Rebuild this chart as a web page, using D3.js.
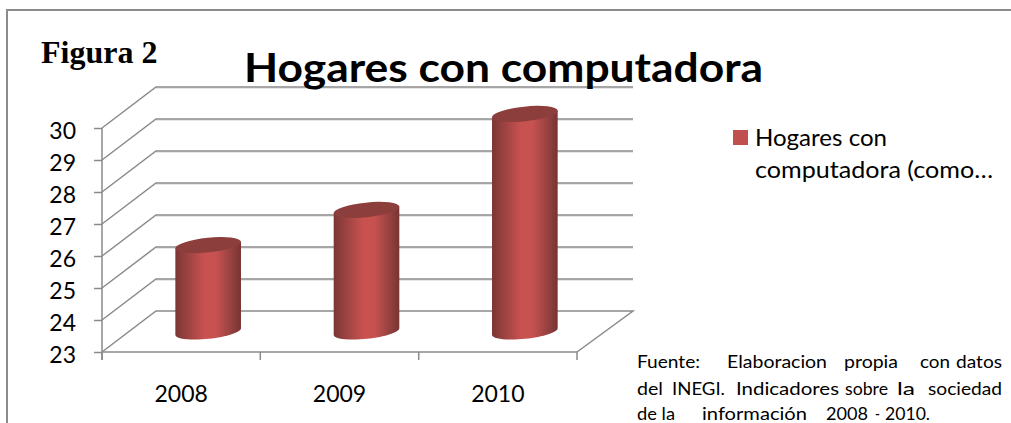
<!DOCTYPE html>
<html>
<head>
<meta charset="utf-8">
<style>html,body{margin:0;padding:0;background:#fff;overflow:hidden}svg{display:block}</style>
<script src="https://cdn.jsdelivr.net/npm/d3@7/dist/d3.min.js"></script>
</head>
<body>
<script>
const years = ["2008", "2009", "2010"];
const values = [25.7, 26.8, 29.8];
const yTicks = [23, 24, 25, 26, 27, 28, 29, 30];
const title = "Hogares con computadora";
const figureLabel = "Figura 2";
const legendLines = [["Hogares con", 132], ["computadora (como…", 238]];
const sourceWords = [
  {y: 368, words: [["Fuente:", 637, 63], ["Elaboracion", 727, 100], ["propia", 844, 54], ["con", 920, 30], ["datos", 956, 46]]},
  {y: 395, words: [["del", 637, 26], ["INEGI.", 672, 53], ["Indicadores", 736, 103], ["sobre", 845, 43], ["la", 897, 18], ["sociedad", 928, 74]]},
  {y: 419.5, words: [["de la", 637, 38], ["información", 702, 105], ["2008", 826, 42], ["-", 875, 5], ["2010.", 885, 45]]}
];

const W = 1011, H = 423;
const font = "Lato, 'Open Sans', sans-serif";
const axisColor = "#8a8a8a";
const depthX = 54, depthY = -41, backRight = 633;
const svg = d3.select("body").append("svg").attr("width", W).attr("height", H);
svg.append("rect").attr("width", W).attr("height", H).attr("fill", "#fff");

const y = d3.scaleLinear().domain([23, 30]).range([352, 128]);
const x = d3.scaleBand().domain(years).range([102, 577]);
const xEdges = [102, 260.3, 418.7, 577];

const defs = svg.append("defs");
const grad = defs.append("linearGradient").attr("id", "cyl");
[[0, "#7b3634"], [0.12, "#8f3f3d"], [0.45, "#c95250"], [0.62, "#c65250"], [0.88, "#8f3f3d"], [1, "#773432"]]
  .forEach(([o, c]) => grad.append("stop").attr("offset", o).attr("stop-color", c));

// outer frame (top and left only are in view)
svg.append("path").attr("d", `M7,${H} V10 H${W}`).attr("fill", "none")
  .attr("stroke", "#8c8c8c").attr("stroke-width", 2);

// gridlines: wall + side wall
const grid = svg.append("g");
grid.selectAll("path.s").data(yTicks.slice(1)).join("path")
  .attr("d", d => `M${102 + depthX},${y(d) + depthY + 1.2} H${backRight}`)
  .attr("fill", "none").attr("stroke", "#dcdcdc").attr("stroke-width", 1);
grid.selectAll("path.g").data(yTicks).join("path")
  .attr("d", d => `M102,${y(d)} L${102 + depthX},${y(d) + depthY} H${backRight}`
    + (d === 23 ? ` L577,${y(d)}` : ""))
  .attr("fill", "none").attr("stroke", axisColor).attr("stroke-width", 1.5);

// axes
const yAxis = d3.axisLeft(y).tickValues(yTicks).tickFormat(d3.format("d")).tickSize(8).tickPadding(18);
const gy = svg.append("g").attr("transform", "translate(102,0)").call(yAxis);
gy.select(".domain").attr("stroke", axisColor).attr("stroke-width", 1.5).attr("d", `M0,${y(30)}V${y(23) + 8}`);
gy.selectAll(".tick line").attr("stroke", axisColor).attr("stroke-width", 1.5);
gy.selectAll(".tick text")
  .attr("font-family", font).attr("font-size", 23).attr("fill", "#000")
  .attr("dy", null).attr("y", 10);

const gx = svg.append("g").attr("transform", `translate(0,${y(23)})`);
gx.append("path").attr("d", "M102,0 H577").attr("stroke", axisColor).attr("stroke-width", 1.5);
gx.selectAll("line").data(xEdges).join("line")
  .attr("x1", d => d).attr("x2", d => d).attr("y1", 0).attr("y2", 8)
  .attr("stroke", axisColor).attr("stroke-width", 1.5);
gx.selectAll("text").data(years).join("text")
  .attr("x", d => x(d) + x.bandwidth() / 2).attr("y", 50)
  .attr("text-anchor", "middle").attr("font-family", font).attr("font-size", 23).attr("fill", "#000")
  .text(d => d);

// cylinders
const rx = 33, ry = 7.3, rot = -6 * Math.PI / 180, k = 0.5523;
const R = (a, b) => [a * Math.cos(rot) - b * Math.sin(rot), a * Math.sin(rot) + b * Math.cos(rot)];
const pt = (p, cy) => `${p[0].toFixed(2)},${(p[1] + cy).toFixed(2)}`;
const cylPath = d => {
  const top = y(d.v) + depthY / 2, base = y(23) + depthY / 2;
  return `M${pt(R(-rx, 0), top)} L${pt(R(-rx, 0), base)}`
    + ` C${pt(R(-rx, k * ry), base)} ${pt(R(-k * rx, ry), base)} ${pt(R(0, ry), base)}`
    + ` C${pt(R(k * rx, ry), base)} ${pt(R(rx, k * ry), base)} ${pt(R(rx, 0), base)}`
    + ` L${pt(R(rx, 0), top)} Z`;
};
const cyl = svg.selectAll("g.cyl").data(years.map((c, i) => ({c, v: values[i]}))).join("g")
  .attr("transform", d => `translate(${x(d.c) + x.bandwidth() / 2 + depthX / 2},0)`);
cyl.append("path").attr("d", cylPath).attr("fill", "url(#cyl)");
cyl.append("ellipse")
  .attr("rx", rx).attr("ry", ry)
  .attr("transform", d => `translate(0,${y(d.v) + depthY / 2}) rotate(-6)`)
  .attr("fill", "#8c3e3c");

// title + figure label
svg.append("text").attr("x", 244).attr("y", 82)
  .attr("font-family", font).attr("font-weight", 700).attr("font-size", 41).attr("fill", "#000")
  .attr("textLength", 519).attr("lengthAdjust", "spacingAndGlyphs").text(title);
svg.append("text").attr("x", 41).attr("y", 63)
  .attr("font-family", "'Liberation Serif', serif").attr("font-weight", 700).attr("font-size", 32).attr("fill", "#000")
  .text(figureLabel);

// legend
svg.append("rect").attr("x", 733).attr("y", 130).attr("width", 15).attr("height", 15).attr("fill", "#c0504d");
svg.selectAll("text.leg").data(legendLines).join("text").attr("class", "leg")
  .attr("x", 755).attr("y", (d, i) => 146 + i * 32)
  .attr("font-family", font).attr("font-size", 23).attr("fill", "#000")
  .attr("textLength", d => d[1]).attr("lengthAdjust", "spacingAndGlyphs").text(d => d[0]);

// source note
sourceWords.forEach(line => {
  svg.selectAll(null).data(line.words).join("text")
    .attr("x", d => d[1]).attr("y", line.y)
    .attr("font-family", font).attr("font-size", 17).attr("fill", "#000")
    .attr("textLength", d => d[2]).attr("lengthAdjust", "spacingAndGlyphs").text(d => d[0]);
});
</script>
</body>
</html>
